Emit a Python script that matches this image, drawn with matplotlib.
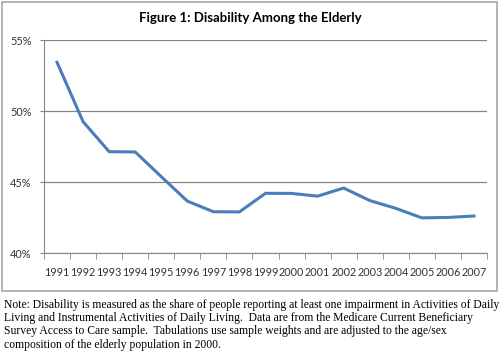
import matplotlib.pyplot as plt
from matplotlib.patches import Rectangle
from matplotlib.ticker import FuncFormatter, FixedLocator

# Data
years = ['1991', '1992', '1993', '1994', '1995', '1996', '1997', '1998', '1999',
         '2000', '2001', '2002', '2003', '2004', '2005', '2006', '2007']
disability = [53.45, 49.27, 47.16, 47.14, 45.4, 43.68, 42.93, 42.92, 44.23,
              44.22, 44.03, 44.6, 43.72, 43.17, 42.5, 42.53, 42.63]
yticks = [40, 45, 50, 55]

title = 'Figure 1: Disability Among the Elderly'
note = ('Note: Disability is measured as the share of people reporting at least one impairment in Activities of Daily\n'
        'Living and Instrumental Activities of Daily Living.  Data are from the Medicare Current Beneficiary\n'
        'Survey Access to Care sample.  Tabulations use sample weights and are adjusted to the age/sex\n'
        'composition of the elderly population in 2000.')

fig = plt.figure(figsize=(5, 3.63), dpi=100)
fig.patch.set_facecolor('white')

# chart frame
fig.patches.append(Rectangle((0.004, 1 - 291 / 363), 0.99, 289 / 363,
                             transform=fig.transFigure, fill=False,
                             edgecolor='#a6a6a6', linewidth=1.2))

ax = fig.add_axes([0.088, 0.302, 0.886, 0.587])
x = list(range(len(years)))
ax.plot(x, disability, color='#4a7ebb', linewidth=2.2, solid_joinstyle='round')

ax.set_xlim(-0.5, len(years) - 0.5)
ax.set_ylim(40, 55)
ax.set_yticks(yticks)
ax.yaxis.set_major_formatter(FuncFormatter(lambda v, p: f'{v:.0f}%'))
ax.grid(axis='y', color='#868686', linewidth=0.9)
ax.set_axisbelow(True)

ax.set_xticks(x)
ax.set_xticklabels(years)
ax.xaxis.set_minor_locator(FixedLocator([i - 0.5 for i in range(len(years) + 1)]))
ax.tick_params(axis='x', which='major', length=0, pad=10, labelsize=7.8)
ax.tick_params(axis='x', which='minor', length=4, color='#868686', direction='out')
ax.tick_params(axis='y', length=3, color='#868686', labelsize=7.8, pad=6)
for lab in ax.get_xticklabels() + ax.get_yticklabels():
    lab.set_fontfamily('Lato')
    lab.set_color('#333333')

for s in ['top', 'right']:
    ax.spines[s].set_visible(False)
ax.spines['left'].set_color('#868686')
ax.spines['bottom'].set_color('#868686')

fig.text(0.5, 1 - 18 / 363, title, ha='center', va='center',
         fontsize=9.5, fontweight='bold', family='Lato')

fig.text(0.008, 1 - 299 / 363, note, ha='left', va='top', fontsize=8.4,
         family='Liberation Serif', linespacing=1.13)

fig.savefig('out.png', dpi=100)
